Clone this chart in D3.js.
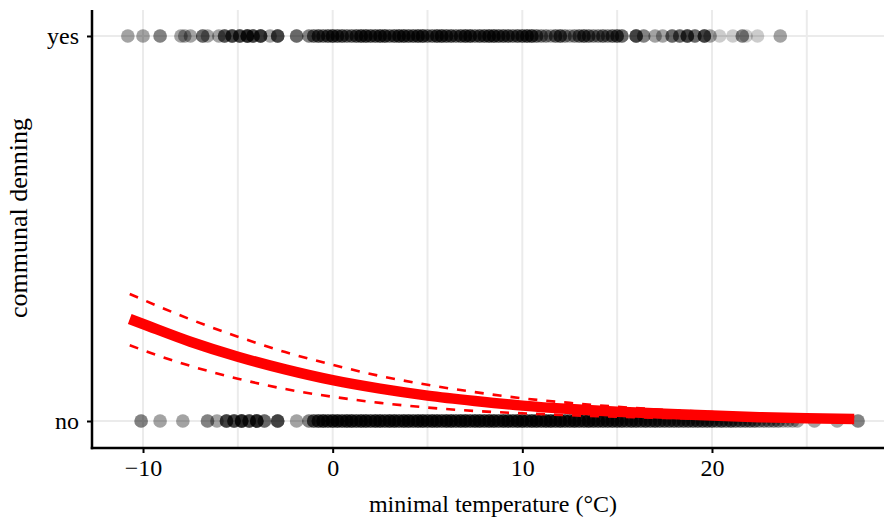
<!DOCTYPE html>
<html>
<head>
<meta charset="utf-8">
<script src="https://cdn.jsdelivr.net/npm/d3@7"></script>
<style>
  body { margin: 0; background: #fff; }
  text { font-family: "Liberation Serif", "DejaVu Serif", serif; }
</style>
</head>
<body>
<div id="chart"></div>
<script>
// Observations: [minimal temperature, number of observations at that value]
var yesPoints = [[-10.8,2],[-10.0,2],[-9.1,3],[-8.0,2],[-7.8,2],[-7.5,2],[-6.85,4],[-6.6,2],[-6.0,2],
  [-5.7,5],[-5.3,6],[-4.9,6],[-4.5,8],[-4.2,6],[-3.8,7],[-3.3,2],[-2.9,6],[-1.9,4],
  [-1.25,3],[-1.0,4],[-0.75,5],[-0.5,4],[-0.25,5],[0.0,6],[0.25,5],[0.5,5],[0.75,4],[1.0,4],
  [1.25,5],[1.5,6],[1.75,6],[2.0,5],[2.25,5],[2.5,6],[2.75,6],[3.0,4],[3.25,5],[3.5,6],
  [3.75,6],[4.0,5],[4.25,5],[4.5,6],[4.75,6],[5.0,4],[5.25,4],[5.5,6],[5.75,6],[6.0,5],
  [6.25,5],[6.5,4],[6.75,5],[7.0,6],[7.25,6],[7.5,4],[7.75,5],[8.0,5],[8.25,6],[8.5,6],
  [8.75,5],[9.0,5],[9.25,5],[9.5,4],[9.75,5],[10.0,5],[10.25,6],[10.5,6],[10.75,4],
  [11.0,3],[11.25,3],[11.5,2],[11.75,4],[12.0,5],[12.25,3],[12.5,2],[12.75,3],[13.0,4],
  [13.25,5],[13.5,4],[13.75,3],[14.0,3],[14.25,4],[14.5,3],[14.75,4],[15.0,5],[15.25,4],
  [16.0,6],[16.4,3],[17.0,2],[17.4,2],[17.9,4],[18.3,4],[18.7,6],[19.1,4],
  [19.6,6],[19.9,2],[20.4,1],[21.1,1],[21.6,3],[21.8,1],[22.4,1],[23.6,2]];

var noPoints = [[-10.1,3],[-9.1,2],[-7.9,2],[-6.6,3],[-6.1,2],[-5.6,6],[-5.2,6],[-4.8,8],[-4.4,6],
  [-4.0,8],[-3.6,4],[-2.9,6],[-1.9,2],
  [-1.25,3],[-1.0,5],[-0.75,6],[-0.5,7],[-0.25,6],[0.0,7],[0.25,7],[0.5,6],[0.75,7],[1.0,7],
  [1.25,6],[1.5,7],[1.75,7],[2.0,6],[2.25,7],[2.5,7],[2.75,6],[3.0,7],[3.25,7],[3.5,6],
  [3.75,7],[4.0,7],[4.25,6],[4.5,7],[4.75,7],[5.0,6],[5.25,7],[5.5,7],[5.75,6],[6.0,7],
  [6.25,7],[6.5,6],[6.75,7],[7.0,7],[7.25,6],[7.5,7],[7.75,7],[8.0,6],[8.25,7],[8.5,7],
  [8.75,6],[9.0,7],[9.25,7],[9.5,6],[9.75,7],[10.0,7],[10.25,6],[10.5,7],[10.75,7],[11.0,6],
  [11.25,7],[11.5,7],[11.75,6],[12.0,7],[12.25,6],[12.5,6],[12.75,7],[13.0,6],[13.25,6],[13.5,7],
  [13.75,6],[14.0,6],[14.25,6],[14.5,6],[14.75,6],[15.0,6],[15.25,6],[15.5,5],[15.75,6],[16.0,6],
  [16.25,5],[16.5,6],[16.75,5],[17.0,6],[17.25,5],[17.5,5],[17.75,5],[18.0,5],[18.25,5],[18.5,5],
  [18.75,5],[19.0,5],[19.25,5],[19.5,5],[19.75,5],[20.0,5],[20.25,4],[20.5,5],[20.75,4],[21.0,5],
  [21.25,4],[21.5,4],[21.75,4],[22.0,4],[22.25,4],[22.5,3],[22.75,3],[23.0,3],[23.25,3],[23.5,3],
  [23.75,2],[24.0,2],[24.25,2],[24.5,2],[25.4,2],[26.6,2],[27.7,3]];

// Fitted probability and confidence band
var fitTemp  = [-10.7, -10, -7.5, -5, -2.5, 0, 2.5, 5, 7.5, 10, 12.5, 15, 17.5, 20, 22.5, 25, 27.5];
var fitProb  = [0.265, 0.252, 0.206, 0.167, 0.134, 0.106, 0.084, 0.066, 0.052, 0.040, 0.031, 0.024, 0.019, 0.014, 0.010, 0.007, 0.005];
var fitUpper = [0.330, 0.315, 0.264, 0.219, 0.179, 0.146, 0.117, 0.094, 0.075, 0.059, 0.047, 0.037, 0.029, 0.023, 0.018, 0.014, 0.011];
var fitLower = [0.197, 0.184, 0.143, 0.110, 0.083, 0.063, 0.047, 0.035, 0.026, 0.020, 0.015, 0.011, 0.008, 0.006, 0.0044, 0.0033, 0.0024];

var xTicks = [-10, 0, 10, 20];
var xGrid = [-10, -5, 0, 5, 10, 15, 20, 25];
var yTicks = [0, 1];
var yLabels = ["no", "yes"];

var width = 884, height = 518;
var margin = {top: 10, right: 0, bottom: 70, left: 92};

var svg = d3.select('#chart')
  .append('svg')
    .attr('width', width)
    .attr('height', height);

var x = d3.scaleLinear()
  .domain([-12.69, 29.07])
  .range([margin.left, width - margin.right]);

var y = d3.scaleLinear()
  .domain([-0.0701, 1.0675])
  .range([height - margin.bottom, margin.top]);

// grid
svg.append("g").selectAll("line")
  .data(xGrid)
  .join("line")
    .attr("x1", d => x(d)).attr("x2", d => x(d))
    .attr("y1", margin.top).attr("y2", height - margin.bottom)
    .attr("stroke", "#ebebeb")
    .attr("stroke-width", 2);
svg.append("g").selectAll("line")
  .data(yTicks)
  .join("line")
    .attr("x1", margin.left).attr("x2", width - margin.right)
    .attr("y1", d => y(d)).attr("y2", d => y(d))
    .attr("stroke", "#ebebeb")
    .attr("stroke-width", 2);

// points
function expand(rows, val) {
  var out = [];
  rows.forEach(function(r) {
    for (var i = 0; i < r[1]; i++) out.push({t: r[0], v: val});
  });
  return out;
}
var points = expand(noPoints, 0).concat(expand(yesPoints, 1));

svg.append("g").selectAll("circle")
  .data(points)
  .join("circle")
    .attr("cx", d => x(d.t))
    .attr("cy", d => y(d.v))
    .attr("r", 6.8)
    .attr("fill", "black")
    .attr("fill-opacity", 0.2);

// fitted lines
var fitData = fitTemp.map((t, i) => ({t: t, p: fitProb[i], hi: fitUpper[i], lo: fitLower[i]}));

function fitLine(key) {
  return d3.line()
    .x(d => x(d.t))
    .y(d => y(d[key]))
    .curve(d3.curveMonotoneX);
}

["hi", "lo"].forEach(function(k) {
  svg.append("path")
    .datum(fitData)
    .attr("fill", "none")
    .attr("stroke", "red")
    .attr("stroke-width", 2.6)
    .attr("stroke-dasharray", "9,9")
    .attr("d", fitLine(k));
});

svg.append("path")
  .datum(fitData)
  .attr("fill", "none")
  .attr("stroke", "red")
  .attr("stroke-width", 10.5)
  .attr("d", fitLine("p"));

// axes
var xAxis = svg.append("g")
  .attr("transform", `translate(0,${height - margin.bottom})`)
  .call(d3.axisBottom(x).tickValues(xTicks).tickSize(5).tickPadding(6));
var yAxis = svg.append("g")
  .attr("transform", `translate(${margin.left},0)`)
  .call(d3.axisLeft(y).tickValues(yTicks).tickFormat((d, i) => yLabels[i]).tickSize(5).tickPadding(8));

[xAxis, yAxis].forEach(function(a) {
  a.select(".domain").remove();
  a.selectAll(".tick line").attr("stroke", "#000").attr("stroke-width", 2);
  a.selectAll(".tick text")
    .attr("fill", "#000")
    .style("font-family", '"Liberation Serif", serif')
    .style("font-size", "24px");
});

// axis lines
svg.append("line")
  .attr("x1", margin.left).attr("x2", margin.left)
  .attr("y1", margin.top).attr("y2", height - margin.bottom + 1.25)
  .attr("stroke", "#000").attr("stroke-width", 2.5);
svg.append("line")
  .attr("x1", margin.left - 1.25).attr("x2", width)
  .attr("y1", height - margin.bottom).attr("y2", height - margin.bottom)
  .attr("stroke", "#000").attr("stroke-width", 2.5);

// titles
svg.append("text")
  .attr("x", 493)
  .attr("y", 512)
  .attr("text-anchor", "middle")
  .style("font-size", "24px")
  .text("minimal temperature (°C)");

svg.append("text")
  .attr("transform", "translate(27,218) rotate(-90)")
  .attr("text-anchor", "middle")
  .style("font-size", "26px")
  .text("communal denning");
</script>
</body>
</html>
